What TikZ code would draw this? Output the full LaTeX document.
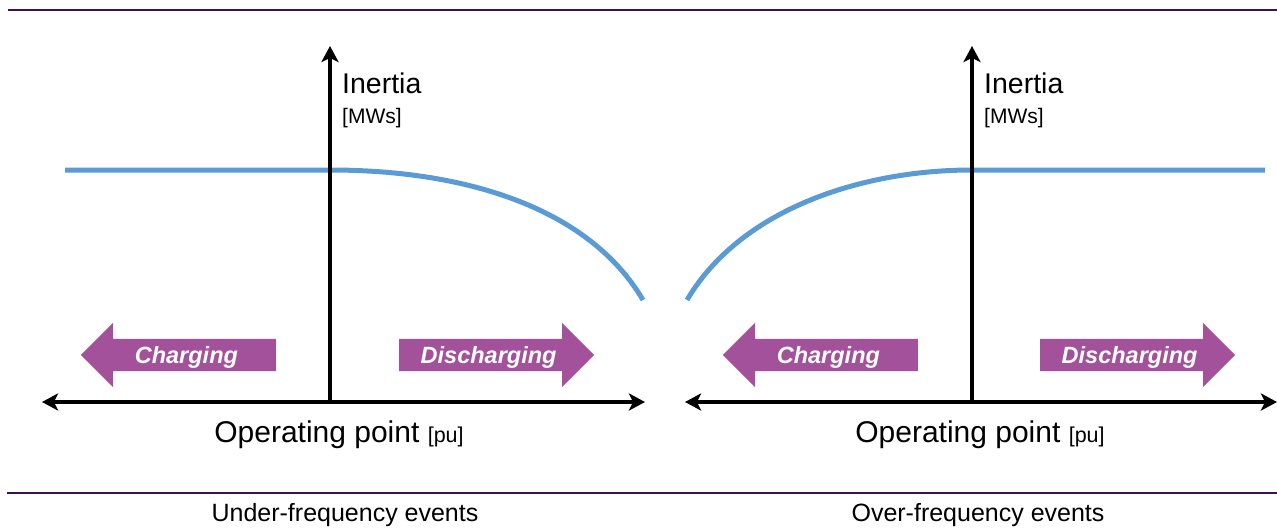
\documentclass[tikz,border=0pt]{standalone}
\usepackage{fontspec}
\setmainfont{Liberation Sans}
\usetikzlibrary{arrows.meta,shapes.arrows}
\definecolor{rulepurple}{HTML}{3C1053}
\definecolor{curveblue}{HTML}{5B9BD5}
\definecolor{modepurple}{HTML}{A3519B}
\begin{document}
\begin{tikzpicture}[x=1pt,y=-1pt]
\tikzstyle{rule}=[rulepurple, line width=2.5pt]
\tikzstyle{axis}=[black, line width=4pt, arrows={-Stealth[length=16pt,width=17pt,inset=4pt]}]
\tikzstyle{inertia}=[curveblue, line width=5pt]
\tikzstyle{mode}=[single arrow, fill=modepurple, text=white, inner xsep=0pt, inner ysep=3.6pt,
  text height=20.8pt, text depth=4pt, minimum height=195pt, single arrow head extend=16pt,
  font=\fontsize{23.5}{24}\selectfont\bfseries\itshape]
\tikzstyle{big}=[font=\fontsize{28.5}{30}\selectfont, inner sep=0pt]
\tikzstyle{small}=[font=\fontsize{21}{22}\selectfont, inner sep=0pt]
\tikzstyle{caption}=[font=\fontsize{25}{26}\selectfont, inner sep=0pt]
\useasboundingbox (0,0) rectangle (1277,531);
\draw [rule] (8,10) -- (1277,10);
\draw [rule] (7,493) -- (1277,493);
% under-frequency events
\coordinate (uw) at (42,402);
\coordinate (ue) at (645,402);
\coordinate (uo) at (330,402);
\coordinate (un) at (330,46);
\coordinate (us) at (65,170);
\coordinate (uk) at (330,170);
\coordinate (uf) at (643,300);
\draw [inertia] (us) -- (uk) .. controls (470,170) and (590,210) .. (uf);
\draw [axis, arrows={Stealth[length=16pt,width=17pt,inset=4pt]-Stealth[length=16pt,width=17pt,inset=4pt]}] (uw) -- (ue);
\draw [axis] (uo) -- (un);
\node (ucharge) [mode, shape border rotate=180, anchor=tail] at (276,355) {Charging};
\node (udischarge) [mode, anchor=tail] at (399,355) {Discharging};
\node (uinertia) [big, anchor=base west] at (342,93) {Inertia};
\node (uunit) [small, anchor=base west] at (342,123) {[MWs]};
\node (uxlabel) [big, font=\fontsize{30}{31}\selectfont, anchor=base] at (339,442) {Operating point {\fontsize{21.5}{22}\selectfont[pu]}};
\node (ucaption) [caption, anchor=base] at (345,521) {Under-frequency events};
% over-frequency events
\coordinate (ow) at (685,402);
\coordinate (oe) at (1277,402);
\coordinate (oo) at (972,402);
\coordinate (on) at (972,46);
\coordinate (os) at (687,300);
\coordinate (ok) at (972,170);
\coordinate (of) at (1265,170);
\draw [inertia] (os) .. controls (740,210) and (860,170) .. (ok) -- (of);
\draw [axis, arrows={Stealth[length=16pt,width=17pt,inset=4pt]-Stealth[length=16pt,width=17pt,inset=4pt]}] (ow) -- (oe);
\draw [axis] (oo) -- (on);
\node (ocharge) [mode, shape border rotate=180, anchor=tail] at (918,355) {Charging};
\node (odischarge) [mode, anchor=tail] at (1040,355) {Discharging};
\node (oinertia) [big, anchor=base west] at (984,93) {Inertia};
\node (ounit) [small, anchor=base west] at (984,123) {[MWs]};
\node (oxlabel) [big, font=\fontsize{30}{31}\selectfont, anchor=base] at (980,442) {Operating point {\fontsize{21.5}{22}\selectfont[pu]}};
\node (ocaption) [caption, anchor=base] at (978,521) {Over-frequency events};
\end{tikzpicture}
\end{document}
